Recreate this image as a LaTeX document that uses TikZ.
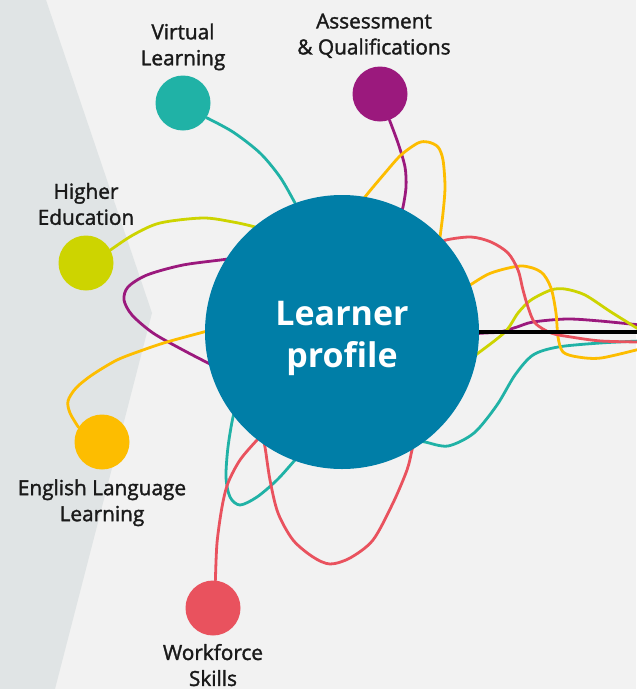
\documentclass[tikz,border=0pt]{standalone}
\usepackage{fontspec}
\setmainfont{Open Sans}
\newfontfamily\lblfont{Open Sans}[FakeBold=1.6]
\usetikzlibrary{positioning, backgrounds}

\definecolor{hubblue}{RGB}{0,126,167}
\definecolor{vteal}{RGB}{32,178,166}
\definecolor{apurple}{RGB}{155,25,125}
\definecolor{hlime}{RGB}{205,212,0}
\definecolor{eamber}{RGB}{253,189,0}
\definecolor{wcoral}{RGB}{233,82,94}
\definecolor{bgpale}{RGB}{242,242,242}
\definecolor{bgband}{RGB}{224,228,229}
\definecolor{lbltext}{RGB}{26,26,26}

\begin{document}
\begin{tikzpicture}[
    x=0.75pt, y=-0.75pt,
    hub/.style={circle, fill=hubblue, minimum size=205.5pt, inner sep=0pt},
    hubtext/.style={text=white, inner sep=0pt, align=center, font=\fontsize{25.5}{31.5}\selectfont\bfseries},
    topic/.style={circle, fill=#1, minimum size=41.25pt, inner sep=0pt},
    lbl/.style={align=center, inner sep=0pt, text=lbltext, font=\lblfont\fontsize{15.6}{19.5}\selectfont},
    strand/.style={draw=#1, line width=2.1pt, line cap=round},
]
\useasboundingbox (0,0) rectangle (636,689);

% Nodes
\node [hub] (hub) at (342,332) {};
\node [hubtext] (hubtxt) at ([yshift=-4.5pt]hub.center) {Learner\\profile};
\node [topic=vteal] (virt) at (183,103) {};
\node [topic=apurple] (assess) at (380,94) {};
\node [topic=hlime] (higher) at (86,263) {};
\node [topic=eamber] (english) at (102,442) {};
\node [topic=wcoral] (work) at (213,608) {};

\node [lbl, above=3.5pt of virt] (virtlbl) {Virtual\\Learning};
\node [lbl, above=6pt of assess, xshift=-4.5pt] (assesslbl) {Assessment\\\& Qualifications};
\node [lbl, above=7.5pt of higher] (higherlbl) {Higher\\Education};
\node [lbl, below=7pt of english] (englishlbl) {English Language\\Learning};
\node [lbl, below=6pt of work] (worklbl) {Workforce\\Skills};

\coordinate (tTeal) at (640,341);
\coordinate (tPurple) at (640,325);
\coordinate (tGreen) at (640,330);
\coordinate (tAmber) at (640,349);
\coordinate (tRed) at (640,342);
\coordinate (tBlack) at (640,332);

% Lines
\begin{scope}[on background layer]
    \fill [bgpale] (0,0) rectangle (636,689);
    \fill [bgband] (0,0) -- (46,0) -- (152,313) -- (55,689) -- (0,689) -- cycle;

    \path [strand=vteal] plot[smooth] coordinates {(virt.-32) (233,132) (260,153) (280,177) (295,203) (301,215)}
        plot[smooth] coordinates {(238,403) (233,417) (228,447) (226,477) (230,497) (240,505) (257,497) (277,480) (295,460) (304,450)}
        plot[smooth] coordinates {(412,440) (425,442) (448,446) (474,433) (497,405) (515,375) (533,355) (558,347) (600,343) (tTeal)};
    \path [strand=apurple] plot[smooth] coordinates {(assess.-70) (398,143) (405,167) (406,187) (403,207) (399,220)}
        plot[smooth] coordinates {(240,256) (228,259) (183,265) (147,275) (128,287) (124,300) (132,315) (153,333) (183,350) (208,363) (220,369)}
        plot[smooth] coordinates {(470,334) (485,333) (500,332) (517,327) (533,322) (567,319) (600,321) (tPurple)};
    \path [strand=hlime] plot[smooth] coordinates {(higher.28) (133,235) (160,223) (203,218) (233,222) (255,227) (268,232)}
        plot[smooth] coordinates {(466,362) (477,354) (505,332) (518,313) (531,300) (551,290) (565,289) (585,295) (611,312) (tGreen)};
    \path [strand=eamber] plot[smooth] coordinates {(english.148) (70,413) (68,401) (76,388) (92,375) (117,360) (143,350) (167,342) (200,333) (215,329)}
        plot[smooth] coordinates {(357,210) (365,197) (385,173) (401,155) (418,143) (428,142) (438,147) (443,160) (445,187) (443,213) (440,237) (438,250)}
        plot[smooth] coordinates {(458,292) (470,285) (491,273) (521,266) (541,272) (551,288) (556,313) (558,337) (563,352) (578,357) (601,358) (tAmber)};
    \path [strand=wcoral] plot[smooth] coordinates {(work.85) (217,543) (222,507) (228,483) (240,460) (257,440) (266,431)}
        plot[smooth] coordinates {(262,434) (265,447) (270,480) (278,513) (293,540) (313,557) (330,564) (350,558) (373,540) (393,503) (407,470) (412,450) (415,438)}
        plot[smooth] coordinates {(434,246) (446,240) (471,237) (491,242) (508,253) (518,270) (523,290) (528,307) (535,323) (551,333) (571,337) (601,341) (tRed)};
\end{scope}

\draw [line width=2.4pt] (hub.east) -- (tBlack);

\end{tikzpicture}
\end{document}
